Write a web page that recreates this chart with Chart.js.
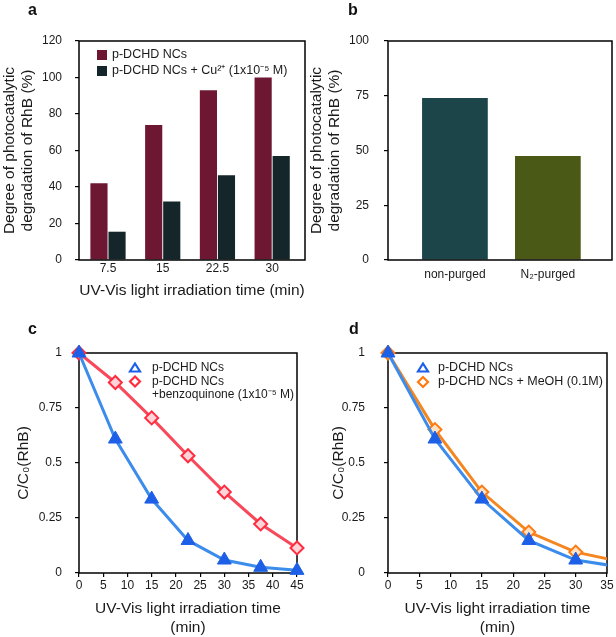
<!DOCTYPE html>
<html><head><meta charset="utf-8">
<script src="https://cdn.jsdelivr.net/npm/chart.js@4/dist/chart.umd.min.js"></script>
<style>
html,body{margin:0;padding:0;background:#fff}
body{width:616px;height:637px;position:relative;overflow:hidden;font-family:"Liberation Sans",Arial,sans-serif}
canvas{position:absolute}
.lbl{position:absolute;font-weight:bold;font-size:16px;line-height:16px;color:#111}
</style></head><body>
<canvas id="ca" width="306" height="300" style="left:0;top:0"></canvas>
<canvas id="cb" width="310" height="300" style="left:306px;top:0"></canvas>
<canvas id="cc" width="306" height="337" style="left:0;top:300px"></canvas>
<canvas id="cd" width="310" height="337" style="left:306px;top:300px"></canvas>
<div class="lbl" style="left:28px;top:2px">a</div>
<div class="lbl" style="left:348px;top:2px">b</div>
<div class="lbl" style="left:28px;top:321px">c</div>
<div class="lbl" style="left:349px;top:321px">d</div>
<script>
// ---- data ----
const timeLabelsA = ['7.5', '15', '22.5', '30'];
const degradationNCs = [42, 74, 93, 100];
const degradationCu = [15.5, 32, 46.5, 57];
const conditionsB = ['non-purged', 'N\u2082-purged'];
const degradationB = [74, 47.5];
const timeC = [0, 7.5, 15, 22.5, 30, 37.5, 45];
const ratioNCs = [1, 0.609, 0.336, 0.148, 0.059, 0.026, 0.012];
const ratioBQ = [1, 0.866, 0.705, 0.533, 0.368, 0.223, 0.114];
const timeD = [0, 7.5, 15, 22.5, 30, 37.5];
const ratioMeOH = [1, 0.652, 0.368, 0.186, 0.095, 0.05];
const yTicksC = [0, 0.25, 0.5, 0.75, 1];

const FONT = '"Liberation Sans", Arial, sans-serif';
Chart.defaults.font.family = FONT;
Chart.defaults.font.size = 12;
Chart.defaults.color = '#1a1a1a';
const TITLE_SIZE = 15.5;

function boxPlugin(before) {
  const draw = (chart) => {
    const {ctx, chartArea: a} = chart;
    ctx.save(); ctx.strokeStyle = '#000'; ctx.lineWidth = 1.5;
    ctx.strokeRect(a.left, a.top, a.right - a.left, a.bottom - a.top);
    ctx.restore();
  };
  return before ? {id: 'box', beforeDatasetsDraw: draw} : {id: 'box', afterDatasetsDraw: draw};
}

const insideLegend = {
  id: 'insideLegend',
  afterDraw(chart, args, o) {
    if (!o || !o.kind) return;
    const {ctx, chartArea: a} = chart;
    ctx.save();
    ctx.font = o.size + 'px ' + FONT; ctx.textBaseline = 'middle'; ctx.textAlign = 'left'; ctx.fillStyle = '#1a1a1a';
    let y = a.top + o.y;
    chart.data.datasets.forEach((ds) => {
      const mx = a.left + o.markerX;
      if (o.kind === 'bar') {
        ctx.fillStyle = ds.backgroundColor;
        ctx.fillRect(mx - 5, y - 5, 10, 10);
      } else {
        ctx.strokeStyle = ds.pointBorderColor; ctx.lineWidth = 2.2;
        ctx.beginPath();
        if (ds.pointStyle === 'triangle') {
          ctx.moveTo(mx, y - 4.5); ctx.lineTo(mx + 5, y + 3.5); ctx.lineTo(mx - 5, y + 3.5); ctx.closePath();
        } else {
          ctx.moveTo(mx, y - 5); ctx.lineTo(mx + 5, y); ctx.lineTo(mx, y + 5); ctx.lineTo(mx - 5, y); ctx.closePath();
        }
        ctx.stroke();
      }
      ctx.fillStyle = '#1a1a1a';
      const lines = ds.label.split('\n');
      lines.forEach((ln, j) => ctx.fillText(ln, a.left + o.textX, y + j * o.lineH));
      y += o.rowH + (lines.length - 1) * o.lineH;
    });
    ctx.restore();
  }
};

function yAxis(opts) {
  return {
    min: opts.min, max: opts.max,
    afterFit: (s) => { s.width = opts.width; },
    grid: {display: true, drawOnChartArea: false, drawTicks: true, tickLength: 4, color: '#000', lineWidth: 1.2},
    border: {display: false},
    ticks: {stepSize: opts.step, padding: opts.pad, font: {size: 12}, color: '#1a1a1a', callback: opts.cb},
    afterBuildTicks: opts.ticks ? (s) => { s.ticks = opts.ticks.map(v => ({value: v})); } : undefined,
    title: {display: true, text: opts.title, font: {size: TITLE_SIZE}, color: '#1a1a1a', padding: {top: opts.tpad, bottom: 0}}
  };
}

// ---- panel a ----
new Chart(document.getElementById('ca'), {
  type: 'bar',
  data: {
    datasets: [
      {label: 'p-DCHD NCs', data: degradationNCs.map((v, i) => ({x: i, y: v})), backgroundColor: '#6d1733'},
      {label: 'p-DCHD NCs + Cu\u00B2\u207A (1x10\u207B\u2075 M)', data: degradationCu.map((v, i) => ({x: i, y: v})), backgroundColor: '#14262a'}
    ]
  },
  options: {
    responsive: false, animation: false,
    layout: {padding: {top: 41, right: 1, left: 0, bottom: 0}},
    categoryPercentage: 0.66, barPercentage: 0.95,
    plugins: {legend: {display: false}, tooltip: {enabled: false},
      insideLegend: {kind: 'bar', size: 12.5, markerX: 23, textX: 33, y: 14, rowH: 16, lineH: 14}},
    scales: {
      x: {type: 'linear', min: -0.53, max: 3.6, offset: false,
        afterFit: (s) => { s.height = 40; },
        afterBuildTicks: (s) => { s.ticks = timeLabelsA.map((t, i) => ({value: i})); },
        grid: {display: false, drawTicks: false, offset: false}, border: {display: false},
        ticks: {padding: 1, callback: (v) => timeLabelsA[v]},
        title: {display: true, text: 'UV-Vis light irradiation time (min)', font: {size: TITLE_SIZE}, color: '#1a1a1a', padding: {top: 0, bottom: 0}}
      },
      y: yAxis({min: 0, max: 120, step: 20, width: 79, pad: 13, tpad: 0,
        title: ['Degree of photocatalytic', 'degradation of RhB (%)']})
    }
  },
  plugins: [boxPlugin(false), insideLegend]
});

// ---- panel b ----
new Chart(document.getElementById('cb'), {
  type: 'bar',
  data: {
    datasets: [{label: 'degradation', data: degradationB.map((v, i) => ({x: i, y: v})),
      backgroundColor: ['#1b4548', '#4a5a16']}]
  },
  options: {
    responsive: false, animation: false,
    layout: {padding: {top: 41, right: 4, left: 0, bottom: 0}},
    categoryPercentage: 1, barPercentage: 0.707,
    plugins: {legend: {display: false}, tooltip: {enabled: false}},
    scales: {
      x: {type: 'linear', min: -0.72, max: 1.69, offset: false,
        afterFit: (s) => { s.height = 40; },
        afterBuildTicks: (s) => { s.ticks = conditionsB.map((t, i) => ({value: i})); },
        grid: {display: false, drawTicks: false, offset: false}, border: {display: false},
        ticks: {padding: 7, callback: (v) => conditionsB[v]}
      },
      y: yAxis({min: 0, max: 100, step: 25, width: 82, pad: 15, tpad: 1,
        title: ['Degree of photocatalytic', 'degradation of RhB (%)']})
    }
  },
  plugins: [boxPlugin(false)]
});

// ---- line panels ----
function lineX(max) {
  return {type: 'linear', min: 0, max: max, offset: false,
    afterFit: (s) => { s.height = 64; },
    grid: {display: true, drawOnChartArea: false, drawTicks: true, tickLength: 4, color: '#000', lineWidth: 1.2},
    border: {display: false},
    ticks: {stepSize: 5, padding: 1, font: {size: 12}, color: '#1a1a1a'},
    title: {display: true, text: ['UV-Vis light irradiation time', '(min)'], font: {size: TITLE_SIZE}, color: '#1a1a1a', padding: {top: 0, bottom: 0}}
  };
}
const blueSeries = (xs, ys, clip) => ({
  label: 'p-DCHD NCs', data: xs.map((x, i) => ({x: x, y: ys[i]})),
  borderColor: '#3b8ceb', borderWidth: 3, pointStyle: 'triangle', pointRadius: 8,
  pointBackgroundColor: '#1d5fe6', pointBorderColor: '#1d5fe6', pointBorderWidth: 1, tension: 0, clip: clip
});

new Chart(document.getElementById('cc'), {
  type: 'line',
  data: {
    datasets: [
      blueSeries(timeC, ratioNCs, false),
      {label: 'p-DCHD NCs\n+benzoquinone (1x10\u207B\u2075 M)', data: timeC.map((x, i) => ({x: x, y: ratioBQ[i]})),
        borderColor: '#f8485a', borderWidth: 3, pointStyle: 'rectRot', pointRadius: 6.5,
        pointBackgroundColor: '#ffd3d7', pointBorderColor: '#ff2b3f', pointBorderWidth: 2, tension: 0, clip: false}
    ]
  },
  options: {
    responsive: false, animation: false,
    layout: {padding: {top: 53, right: 7, left: 0, bottom: 0}},
    plugins: {legend: {display: false}, tooltip: {enabled: false},
      insideLegend: {kind: 'line', size: 12, markerX: 56, textX: 73, y: 15, rowH: 13.5, lineH: 13.5}},
    scales: {
      x: lineX(45),
      y: yAxis({min: 0, max: 1, width: 79, pad: 13, tpad: 14, ticks: yTicksC,
        cb: (v) => String(v), title: 'C/C\u2080(RhB)'})
    }
  },
  plugins: [boxPlugin(true), insideLegend]
});

new Chart(document.getElementById('cd'), {
  type: 'line',
  data: {
    datasets: [
      blueSeries(timeC, ratioNCs, {left: 20, top: 20, right: 0, bottom: 20}),
      {label: 'p-DCHD NCs + MeOH (0.1M)', data: timeD.map((x, i) => ({x: x, y: ratioMeOH[i]})),
        borderColor: '#f5861f', borderWidth: 3, pointStyle: 'rectRot', pointRadius: 6.5,
        pointBackgroundColor: '#ffe2c4', pointBorderColor: '#ff7a12', pointBorderWidth: 2, tension: 0,
        clip: {left: 20, top: 20, right: 0, bottom: 20}}
    ]
  },
  options: {
    responsive: false, animation: false,
    layout: {padding: {top: 53, right: 3, left: 0, bottom: 0}},
    plugins: {legend: {display: false}, tooltip: {enabled: false},
      insideLegend: {kind: 'line', size: 12.5, markerX: 35, textX: 50, y: 15, rowH: 14, lineH: 14}},
    scales: {
      x: lineX(35),
      y: yAxis({min: 0, max: 1, width: 82, pad: 19, tpad: 23, ticks: yTicksC,
        cb: (v) => String(v), title: 'C/C\u2080(RhB)'})
    }
  },
  plugins: [boxPlugin(true), insideLegend]
});
</script>
</body></html>
